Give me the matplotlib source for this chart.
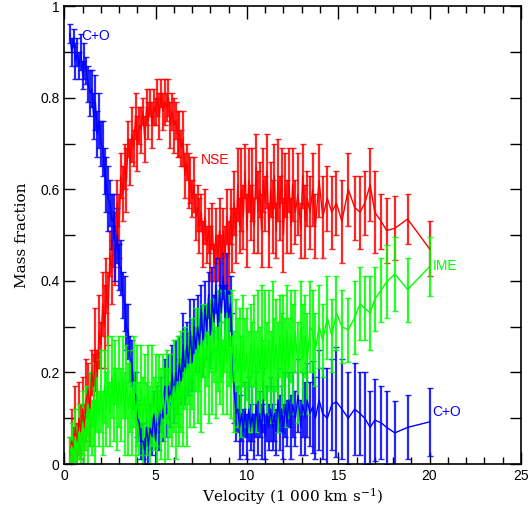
import numpy as np
import matplotlib
matplotlib.use("Agg")
import matplotlib.pyplot as plt
from matplotlib.ticker import MultipleLocator, FixedLocator

# velocity bins (1000 km/s): dense inner part, sparse outer part
velocity = [
    0.3, 0.4, 0.5, 0.6, 0.7, 0.8, 0.9, 1.0, 1.1, 1.2,
    1.3, 1.4, 1.5, 1.6, 1.7, 1.8, 1.9, 2.0, 2.1, 2.2,
    2.3, 2.4, 2.5, 2.6, 2.7, 2.8, 2.9, 3.0, 3.1, 3.2,
    3.3, 3.4, 3.5, 3.6, 3.7, 3.8, 3.9, 4.0, 4.1, 4.2,
    4.3, 4.4, 4.5, 4.6, 4.7, 4.8, 4.9, 5.0, 5.1, 5.2,
    5.3, 5.4, 5.5, 5.6, 5.7, 5.8, 5.9, 6.0, 6.1, 6.2,
    6.3, 6.4, 6.5, 6.6, 6.7, 6.8, 6.9, 7.0, 7.1, 7.2,
    7.3, 7.4, 7.5, 7.6, 7.7, 7.8, 7.9, 8.0, 8.1, 8.2,
    8.3, 8.4, 8.5, 8.6, 8.7, 8.8, 8.9, 9.0, 9.1, 9.2,
    9.3, 9.4, 9.5, 9.6, 9.7, 9.8, 9.9, 10.0, 10.1, 10.2,
    10.3, 10.4, 10.5, 10.6, 10.7, 10.8, 10.9, 11.0, 11.1, 11.2,
    11.3, 11.4, 11.5, 11.6, 11.7, 11.8, 11.9, 12.0, 12.1, 12.2,
    12.3, 12.4, 12.5, 12.65, 12.8, 12.95, 13.05, 13.2, 13.3, 13.45,
    13.6, 13.75, 13.95, 14.15, 14.40, 14.65, 14.90, 15.20, 15.55, 15.90,
    16.20, 16.45, 16.75, 17.00, 17.35, 17.65, 18.10, 18.80, 20.00,
]

nse = [
    0.02, 0.05, 0.03, 0.08, 0.04, 0.10, 0.07, 0.12, 0.08, 0.14,
    0.16, 0.12, 0.20, 0.17, 0.25, 0.19, 0.29, 0.26, 0.35, 0.30,
    0.39, 0.34, 0.46, 0.42, 0.49, 0.47, 0.57, 0.52, 0.63, 0.59,
    0.65, 0.62, 0.71, 0.66, 0.72, 0.69, 0.76, 0.70, 0.74, 0.73,
    0.77, 0.71, 0.78, 0.75, 0.79, 0.74, 0.78, 0.77, 0.80, 0.76,
    0.81, 0.77, 0.79, 0.78, 0.80, 0.74, 0.77, 0.74, 0.75, 0.72,
    0.72, 0.69, 0.71, 0.63, 0.66, 0.62, 0.62, 0.58, 0.61, 0.54,
    0.56, 0.52, 0.55, 0.48, 0.54, 0.48, 0.51, 0.46, 0.52, 0.44,
    0.50, 0.45, 0.51, 0.44, 0.51, 0.45, 0.54, 0.45, 0.54, 0.49,
    0.57, 0.50, 0.61, 0.52, 0.60, 0.54, 0.64, 0.51, 0.62, 0.55,
    0.61, 0.52, 0.65, 0.55, 0.60, 0.51, 0.62, 0.57, 0.64, 0.50,
    0.60, 0.54, 0.63, 0.51, 0.62, 0.56, 0.63, 0.50, 0.61, 0.54,
    0.62, 0.52, 0.61, 0.55, 0.59, 0.51, 0.63, 0.53, 0.58, 0.55,
    0.60, 0.52, 0.62, 0.54, 0.58, 0.55, 0.57, 0.53, 0.60, 0.56,
    0.55, 0.57, 0.61, 0.55, 0.53, 0.51, 0.515, 0.535, 0.47,
]
nse_err = [
    0.04, 0.07, 0.05, 0.09, 0.05, 0.08, 0.06, 0.07, 0.05, 0.09,
    0.06, 0.08, 0.05, 0.07, 0.09, 0.06, 0.08, 0.05, 0.07, 0.09,
    0.06, 0.08, 0.05, 0.07, 0.06, 0.08, 0.05, 0.07, 0.05, 0.06,
    0.05, 0.07, 0.04, 0.05, 0.06, 0.04, 0.05, 0.06, 0.04, 0.05,
    0.03, 0.05, 0.04, 0.04, 0.03, 0.05, 0.04, 0.03, 0.04, 0.05,
    0.03, 0.04, 0.05, 0.03, 0.04, 0.05, 0.04, 0.06, 0.04, 0.05,
    0.05, 0.04, 0.06, 0.05, 0.04, 0.06, 0.05, 0.04, 0.06, 0.05,
    0.05, 0.06, 0.04, 0.05, 0.06, 0.04, 0.05, 0.06, 0.05, 0.04,
    0.06, 0.05, 0.07, 0.06, 0.05, 0.07, 0.06, 0.08, 0.06, 0.07,
    0.07, 0.06, 0.08, 0.06, 0.09, 0.07, 0.06, 0.08, 0.07, 0.06,
    0.08, 0.06, 0.07, 0.09, 0.06, 0.08, 0.07, 0.06, 0.08, 0.07,
    0.06, 0.08, 0.07, 0.06, 0.09, 0.07, 0.06, 0.08, 0.07, 0.08,
    0.07, 0.06, 0.08, 0.07, 0.09, 0.06, 0.07, 0.08, 0.06, 0.08,
    0.08, 0.07, 0.08, 0.09, 0.07, 0.08, 0.07, 0.09, 0.08, 0.07,
    0.08, 0.07, 0.08, 0.09, 0.06, 0.07, 0.07, 0.055, 0.06,
]

co = [
    0.94, 0.90, 0.93, 0.88, 0.90, 0.87, 0.90, 0.85, 0.88, 0.86,
    0.83, 0.81, 0.82, 0.76, 0.79, 0.72, 0.75, 0.70, 0.69, 0.64,
    0.61, 0.58, 0.57, 0.53, 0.54, 0.46, 0.50, 0.43, 0.43, 0.37,
    0.35, 0.30, 0.29, 0.23, 0.22, 0.16, 0.15, 0.10, 0.09, 0.05,
    0.05, 0.03, 0.08, 0.04, 0.08, 0.06, 0.11, 0.05, 0.12, 0.08,
    0.13, 0.10, 0.17, 0.11, 0.17, 0.13, 0.20, 0.14, 0.20, 0.17,
    0.22, 0.18, 0.26, 0.19, 0.26, 0.22, 0.29, 0.22, 0.30, 0.25,
    0.30, 0.26, 0.34, 0.26, 0.34, 0.29, 0.37, 0.28, 0.36, 0.31,
    0.39, 0.30, 0.38, 0.33, 0.41, 0.32, 0.39, 0.32, 0.35, 0.26,
    0.16, 0.11, 0.12, 0.08, 0.11, 0.07, 0.12, 0.06, 0.12, 0.08,
    0.11, 0.06, 0.13, 0.08, 0.11, 0.07, 0.14, 0.06, 0.11, 0.08,
    0.12, 0.08, 0.11, 0.07, 0.14, 0.09, 0.12, 0.07, 0.13, 0.09,
    0.14, 0.08, 0.13, 0.10, 0.15, 0.08, 0.13, 0.10, 0.14, 0.11,
    0.125, 0.10, 0.14, 0.11, 0.10, 0.13, 0.136, 0.12, 0.10, 0.12,
    0.11, 0.10, 0.08, 0.096, 0.09, 0.08, 0.068, 0.08, 0.092,
]
co_err = [
    0.02, 0.03, 0.02, 0.04, 0.03, 0.03, 0.04, 0.03, 0.04, 0.03,
    0.04, 0.05, 0.04, 0.05, 0.06, 0.05, 0.06, 0.05, 0.06, 0.05,
    0.06, 0.07, 0.05, 0.06, 0.05, 0.06, 0.06, 0.05, 0.06, 0.05,
    0.06, 0.05, 0.06, 0.05, 0.05, 0.04, 0.05, 0.04, 0.04, 0.04,
    0.04, 0.03, 0.04, 0.04, 0.05, 0.04, 0.05, 0.05, 0.05, 0.05,
    0.06, 0.05, 0.06, 0.05, 0.07, 0.05, 0.06, 0.05, 0.07, 0.06,
    0.06, 0.05, 0.07, 0.06, 0.05, 0.07, 0.07, 0.06, 0.06, 0.05,
    0.07, 0.06, 0.05, 0.07, 0.06, 0.06, 0.05, 0.07, 0.07, 0.06,
    0.06, 0.05, 0.07, 0.06, 0.05, 0.07, 0.07, 0.06, 0.06, 0.07,
    0.07, 0.06, 0.05, 0.07, 0.06, 0.05, 0.06, 0.05, 0.07, 0.05,
    0.06, 0.05, 0.07, 0.06, 0.05, 0.06, 0.07, 0.05, 0.06, 0.05,
    0.07, 0.05, 0.06, 0.05, 0.07, 0.06, 0.05, 0.06, 0.07, 0.05,
    0.06, 0.07, 0.07, 0.06, 0.08, 0.06, 0.07, 0.08, 0.08, 0.07,
    0.10, 0.09, 0.11, 0.10, 0.11, 0.10, 0.12, 0.11, 0.10, 0.10,
    0.09, 0.10, 0.08, 0.09, 0.08, 0.08, 0.07, 0.07, 0.075,
]

ime = [
    0.02, 0.04, 0.02, 0.06, 0.03, 0.07, 0.04, 0.09, 0.05, 0.10,
    0.06, 0.12, 0.08, 0.13, 0.07, 0.15, 0.10, 0.16, 0.09, 0.17,
    0.12, 0.18, 0.11, 0.19, 0.13, 0.20, 0.12, 0.18, 0.13, 0.19,
    0.11, 0.18, 0.12, 0.16, 0.10, 0.18, 0.09, 0.15, 0.10, 0.17,
    0.09, 0.15, 0.10, 0.16, 0.08, 0.15, 0.11, 0.14, 0.09, 0.16,
    0.11, 0.15, 0.10, 0.17, 0.11, 0.15, 0.12, 0.17, 0.10, 0.18,
    0.13, 0.18, 0.12, 0.21, 0.14, 0.21, 0.17, 0.22, 0.16, 0.25,
    0.19, 0.25, 0.18, 0.27, 0.21, 0.26, 0.19, 0.28, 0.22, 0.27,
    0.20, 0.27, 0.22, 0.28, 0.19, 0.29, 0.22, 0.27, 0.19, 0.28,
    0.18, 0.26, 0.20, 0.25, 0.17, 0.27, 0.20, 0.24, 0.18, 0.26,
    0.19, 0.27, 0.18, 0.26, 0.20, 0.28, 0.18, 0.26, 0.21, 0.27,
    0.19, 0.28, 0.21, 0.26, 0.19, 0.28, 0.22, 0.27, 0.20, 0.29,
    0.21, 0.28, 0.23, 0.29, 0.20, 0.30, 0.23, 0.28, 0.22, 0.30,
    0.29, 0.25, 0.30, 0.27, 0.32, 0.28, 0.33, 0.30, 0.293, 0.32,
    0.35, 0.34, 0.33, 0.36, 0.38, 0.398, 0.415, 0.381, 0.431,
]
ime_err = [
    0.04, 0.05, 0.04, 0.06, 0.05, 0.06, 0.05, 0.07, 0.06, 0.07,
    0.07, 0.08, 0.06, 0.09, 0.07, 0.08, 0.06, 0.09, 0.07, 0.08,
    0.08, 0.10, 0.07, 0.09, 0.08, 0.07, 0.09, 0.10, 0.08, 0.09,
    0.09, 0.08, 0.10, 0.09, 0.08, 0.10, 0.09, 0.11, 0.08, 0.09,
    0.10, 0.09, 0.08, 0.10, 0.09, 0.11, 0.08, 0.10, 0.09, 0.08,
    0.10, 0.09, 0.11, 0.08, 0.10, 0.09, 0.08, 0.10, 0.09, 0.10,
    0.09, 0.11, 0.08, 0.09, 0.10, 0.08, 0.09, 0.10, 0.08, 0.09,
    0.10, 0.09, 0.11, 0.08, 0.10, 0.09, 0.10, 0.08, 0.11, 0.09,
    0.10, 0.11, 0.09, 0.10, 0.08, 0.09, 0.11, 0.10, 0.09, 0.10,
    0.11, 0.10, 0.12, 0.09, 0.11, 0.10, 0.12, 0.10, 0.11, 0.09,
    0.12, 0.10, 0.11, 0.12, 0.10, 0.11, 0.09, 0.12, 0.10, 0.11,
    0.10, 0.12, 0.11, 0.10, 0.12, 0.09, 0.11, 0.10, 0.12, 0.10,
    0.11, 0.10, 0.12, 0.09, 0.11, 0.10, 0.12, 0.09, 0.11, 0.10,
    0.09, 0.08, 0.09, 0.08, 0.09, 0.08, 0.08, 0.08, 0.07, 0.08,
    0.08, 0.07, 0.08, 0.07, 0.07, 0.08, 0.08, 0.07, 0.065,
]

plt.rcParams['mathtext.fontset'] = 'dejavuserif'

fig = plt.figure(figsize=(5.32, 5.15), dpi=100)
ax = fig.add_axes([0.121, 0.099, 0.858, 0.889])

# drawn in this order: NSE, C+O, IME on top
for y, e, c in [(nse, nse_err, '#ff0000'), (co, co_err, '#0000ff'), (ime, ime_err, '#00ff00')]:
    ax.errorbar(velocity, y, yerr=e, fmt='-', color=c, lw=1.0,
                ecolor=matplotlib.colors.to_rgba(c, 0.85), elinewidth=1.6,
                capsize=2.2, capthick=1.0)

ax.text(0.95, 0.935, 'C+O', color='#0000ff', fontsize=10, family='Liberation Sans', va='center')
ax.text(7.45, 0.665, 'NSE', color='#ff0000', fontsize=10, family='Liberation Sans', va='center')
ax.text(20.15, 0.432, 'IME', color='#00ff00', fontsize=10, family='Liberation Sans', va='center')
ax.text(20.15, 0.114, 'C+O', color='#0000ff', fontsize=10, family='Liberation Sans', va='center')

ax.set_xlim(0, 25)
ax.set_ylim(0, 1)
ax.xaxis.set_major_locator(MultipleLocator(5))
ax.xaxis.set_minor_locator(MultipleLocator(1))
ax.yaxis.set_major_locator(FixedLocator([0, 0.2, 0.4, 0.6, 0.8, 1.0]))
ax.yaxis.set_minor_locator(FixedLocator([0.1, 0.3, 0.5, 0.7, 0.9]))
ax.set_yticklabels(['0', '0.2', '0.4', '0.6', '0.8', '1'])
ax.tick_params(which='both', direction='in', top=True, right=True, labelsize=10, width=1)
ax.tick_params(which='major', axis='x', length=9)
ax.tick_params(which='minor', axis='x', length=5)
ax.tick_params(which='both', axis='y', length=8)
for lab in ax.get_xticklabels() + ax.get_yticklabels():
    lab.set_family('Liberation Sans')
for s in ax.spines.values():
    s.set_linewidth(1.2)

ax.set_xlabel('Velocity (1 000 km s$^{-1}$)', family='DejaVu Serif', fontsize=11, labelpad=2)
ax.set_ylabel('Mass fraction', family='DejaVu Serif', fontsize=11, labelpad=8)

fig.savefig('out.png', dpi=100)
